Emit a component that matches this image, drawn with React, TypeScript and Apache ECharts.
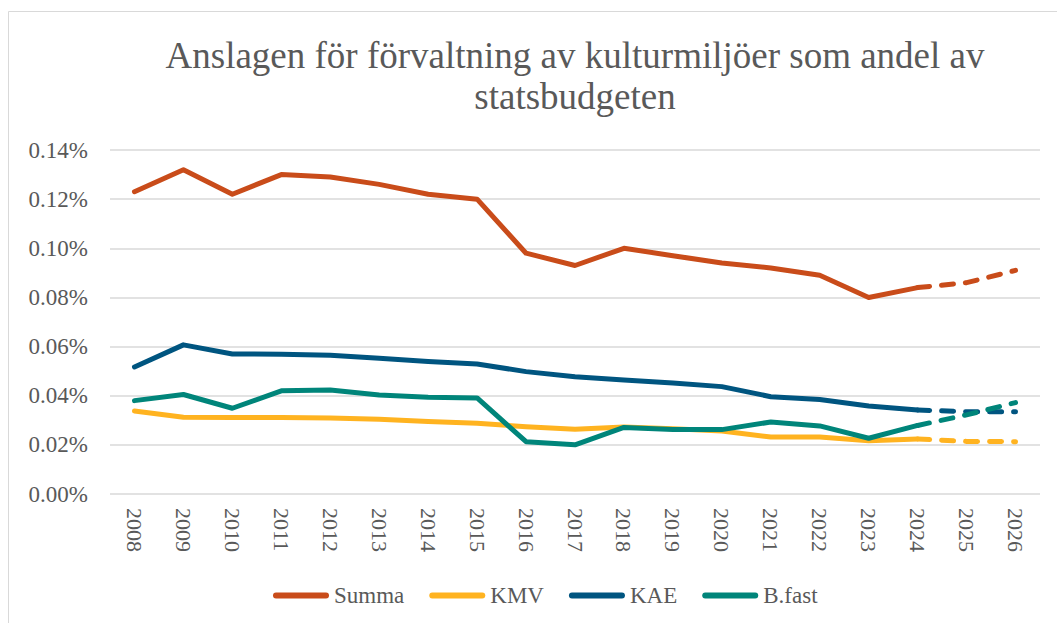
import React, { useEffect, useRef } from "react";
import * as echarts from "echarts";

const years = ["2008","2009","2010","2011","2012","2013","2014","2015","2016","2017","2018","2019","2020","2021","2022","2023","2024","2025","2026"];
const summa = [0.123, 0.132, 0.122, 0.130, 0.129, 0.126, 0.122, 0.120, 0.098, 0.093, 0.100, 0.097, 0.094, 0.092, 0.089, 0.080, 0.084, 0.086, 0.091];
const kmv = [0.0338, 0.0312, 0.0311, 0.0311, 0.0309, 0.0304, 0.0295, 0.0288, 0.0274, 0.0264, 0.0273, 0.0266, 0.0256, 0.0232, 0.0232, 0.0217, 0.0224, 0.0214, 0.0213];
const kae = [0.0517, 0.0607, 0.0570, 0.0569, 0.0565, 0.0552, 0.0539, 0.0529, 0.0498, 0.0477, 0.0464, 0.0452, 0.0437, 0.0396, 0.0385, 0.0358, 0.0342, 0.0335, 0.0335];
const bfast = [0.0380, 0.0405, 0.0349, 0.0420, 0.0423, 0.0403, 0.0394, 0.0391, 0.0213, 0.0200, 0.0271, 0.0263, 0.0262, 0.0293, 0.0277, 0.0227, 0.0279, 0.0322, 0.0372];
const seriesNames = ["Summa", "KMV", "KAE", "B.fast"];
const colors = ["#C94C1A", "#FFB320", "#005580", "#00857A"];
const lastActualIndex = 16; // 2024
const titleText = "Anslagen för förvaltning av kulturmiljöer som andel av\nstatsbudgeten";

const FONT = '"Liberation Serif", "Times New Roman", serif';
const TEXT = "#595959";

export default function App() {
  const ref = useRef<HTMLDivElement>(null);
  useEffect(() => {
    document.body.style.margin = "0";
    document.body.style.overflow = "hidden";
    const chart = echarts.init(ref.current!, undefined, { renderer: "svg" });
    const all = [summa, kmv, kae, bfast];
    const series: any[] = [];
    all.forEach((vals, i) => {
      series.push({
        name: seriesNames[i],
        type: "line",
        data: vals.map((v, j) => (j <= lastActualIndex ? v : null)),
        symbol: "none",
        lineStyle: { color: colors[i], width: 5, cap: "round", join: "round" },
        itemStyle: { color: colors[i] },
        z: 2 + i,
      });
      series.push({
        name: seriesNames[i] + " prognos",
        type: "line",
        data: vals.map((v, j) => (j >= lastActualIndex ? v : null)),
        symbol: "none",
        lineStyle: { color: colors[i], width: 5, type: [12, 12], cap: "round", join: "round" },
        itemStyle: { color: colors[i] },
        z: 2 + i,
      });
    });
    chart.setOption({
      animation: false,
      textStyle: { fontFamily: FONT },
      graphic: [
        {
          type: "rect",
          shape: { x: 8.5, y: 11.5, width: 1200, height: 800 },
          style: { fill: "none", stroke: "#d9d9d9", lineWidth: 1 },
          silent: true,
        },
        {
          type: "text",
          x: 575,
          y: 35,
          style: {
            text: titleText,
            fill: TEXT,
            font: `37px ${FONT}`,
            textAlign: "center",
            lineHeight: 41,
          },
        },
      ],
      legend: {
        data: seriesNames,
        left: 268,
        top: 579,
        itemGap: 25,
        itemWidth: 56,
        itemHeight: 6,
        icon: "path://M3,0 H53 A3,3 0 0 1 53,6 H3 A3,3 0 0 1 3,0 Z",
        textStyle: { color: TEXT, fontSize: 23, fontFamily: FONT },
      },
      grid: { left: 110, right: 17, top: 150, bottom: 129, containLabel: false },
      xAxis: {
        type: "category",
        data: years,
        boundaryGap: true,
        axisLine: { show: false },
        axisTick: { show: false },
        axisLabel: { rotate: -90, margin: 14, color: TEXT, fontSize: 22, fontFamily: FONT, interval: 0 },
      },
      yAxis: {
        type: "value",
        min: 0,
        max: 0.14,
        interval: 0.02,
        axisLine: { show: false },
        axisTick: { show: false },
        splitLine: { lineStyle: { color: "#d9d9d9", width: 1.5 } },
        axisLabel: {
          margin: 22,
          color: TEXT,
          fontSize: 23,
          fontFamily: FONT,
          formatter: (v: number) => v.toFixed(2) + "%",
        },
      },
      series,
    });
    return () => chart.dispose();
  }, []);
  return <div ref={ref} style={{ width: 1057, height: 623 }} />;
}
